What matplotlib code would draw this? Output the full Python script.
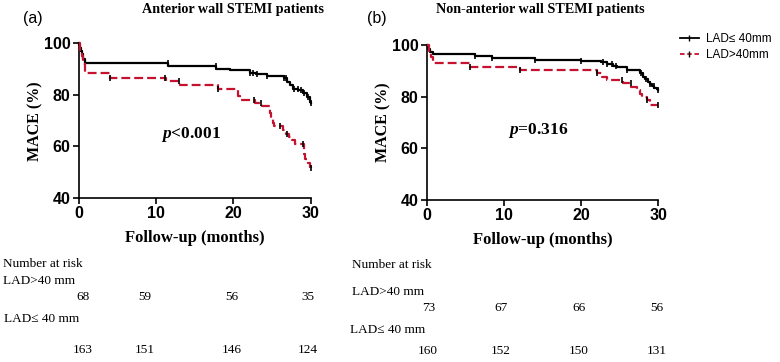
import numpy as np
import matplotlib
matplotlib.use("Agg")
from matplotlib import pyplot as plt
from matplotlib.lines import Line2D
from matplotlib.transforms import blended_transform_factory

RED = '#c4122f'

plt.rcParams['mathtext.fontset'] = 'custom'
plt.rcParams['mathtext.it'] = 'Liberation Serif:italic:bold'
plt.rcParams['mathtext.rm'] = 'Liberation Serif:bold'

# Panel (a): anterior wall STEMI
a_small_t = [0, 0.1, 0.2, 0.3, 0.4, 0.5, 0.6, 0.8, 11.6, 17.8, 19.6, 22.1, 22.9, 24.3,
             26.5, 27.0, 27.3, 27.7, 28.4, 29.0, 29.5, 29.9, 30]
a_small_s = [100, 99.4, 98.2, 97.0, 95.8, 94.6, 93.8, 92.6, 91.3, 90.2, 89.5, 88.7, 88.1, 87.2,
             86.4, 85.2, 83.8, 82.5, 81.9, 80.6, 79.3, 77.4, 76.8]
a_small_cens = [11.5, 17.7, 22.2, 22.6, 23.0, 24.3, 26.5, 26.8, 27.8, 28.3, 28.7, 29.2, 29.6, 30]
a_large_t = [0, 0.2, 0.4, 0.6, 0.8, 4.0, 11.3, 13.1, 18.0, 20.6, 20.8, 22.8, 23.7, 24.7, 24.9,
             25.1, 25.3, 26.4, 26.8, 27.2, 27.6, 28.0, 29.1, 29.3, 29.6, 29.9, 30]
a_large_s = [100, 97.5, 95.0, 92.0, 88.4, 86.7, 85.3, 83.9, 82.4, 79.5, 78.0, 76.7, 75.6, 73.0, 71.0,
             69.3, 67.9, 66.5, 65.0, 63.7, 62.5, 60.8, 57.0, 55.0, 53.5, 52.0, 51.5]
a_large_cens = [4.0, 11.2, 13.0, 18.0, 22.7, 23.6, 26.0, 27.0, 29.0, 30]

# Panel (b): non-anterior wall STEMI
b_small_t = [0, 0.2, 0.4, 0.8, 6.2, 8.4, 14.0, 20.0, 22.6, 23.3, 24.1, 24.6, 26.0, 27.6,
             28.0, 28.3, 28.6, 28.9, 29.2, 29.5, 29.8, 30]
b_small_s = [100, 98.6, 97.5, 96.4, 95.7, 94.9, 94.3, 93.8, 93.3, 92.5, 92.0, 91.4, 90.3, 89.0,
             87.8, 86.7, 85.8, 84.9, 84.1, 83.4, 82.8, 82.6]
b_small_cens = [6.2, 8.5, 14.0, 20.0, 22.8, 23.4, 24.0, 24.5, 26.0, 27.8, 28.4, 28.9, 29.4, 30]
b_large_t = [0, 0.3, 0.6, 0.8, 5.6, 12.1, 22.1, 22.7, 23.4, 25.4, 26.5, 27.3, 27.6, 27.9,
             28.5, 28.9, 30]
b_large_s = [100, 97.5, 95.5, 93.2, 91.6, 90.4, 89.0, 87.7, 86.5, 85.2, 83.9, 82.5, 81.0, 80.0,
             78.7, 76.8, 76.8]
b_large_cens = [5.6, 12.1, 22.1, 25.3, 26.4, 28.5, 30]

# Number at risk
risk_groups = ['LAD>40 mm', 'LAD\u2264 40 mm']
a_risk_large = [68, 59, 56, 35]
a_risk_small = [163, 151, 146, 124]
b_risk_large = [73, 67, 66, 56]
b_risk_small = [160, 152, 150, 131]
a_risk_x = [0.5, 8.6, 19.8, 29.6]
b_risk_x = [0.2, 9.6, 19.7, 29.8]

SERIF = ['Liberation Serif', 'DejaVu Serif']
SANS = ['Liberation Sans', 'DejaVu Sans']


def step_value(t, s, x):
    idx = np.searchsorted(t, x, side='right') - 1
    return np.array(s)[idx]


def draw_km(ax, t, s, cens, color, dashed):
    ls = (0, (4, 1.8)) if dashed else '-'
    ax.step(t, s, where='post', color=color, lw=1.6, ls=ls, clip_on=False, zorder=3)
    ax.plot(cens, step_value(t, s, cens), ls='none', marker='|', ms=5, mew=1.2,
            color=color if not dashed else 'black', clip_on=False, zorder=4)


def style_axis(ax):
    ax.set_xlim(0, 30)
    ax.set_ylim(40, 100)
    ax.set_xticks([0, 10, 20, 30])
    ax.set_yticks([40, 60, 80, 100])
    for sp in ['top', 'right']:
        ax.spines[sp].set_visible(False)
    for sp in ['left', 'bottom']:
        ax.spines[sp].set_linewidth(1.2)
    ax.tick_params(width=1.2, length=4, labelsize=11.5, pad=2)
    for lab in ax.get_xticklabels() + ax.get_yticklabels():
        lab.set_fontweight('bold')
        lab.set_family(SANS)
    ax.set_ylabel('MACE (%)', fontsize=11.5, fontweight='bold', family=SERIF, labelpad=0)
    ax.set_xlabel('Follow-up (months)', fontsize=12, fontweight='bold', family=SERIF, labelpad=6)


def risk_table(fig, ax, xs, row_large, row_small, ypix):
    tr = blended_transform_factory(ax.transData, fig.transFigure)
    H = 362.0
    fig.text(ypix[0][0] / 780, 1 - ypix[0][1] / H, 'Number at risk', family=SERIF, fontsize=9.5, va='center')
    fig.text(ypix[1][0] / 780, 1 - ypix[1][1] / H, risk_groups[0], family=SERIF, fontsize=9.5, va='center')
    fig.text(ypix[3][0] / 780, 1 - ypix[3][1] / H, risk_groups[1], family=SERIF, fontsize=9.5, va='center')
    for x, v in zip(xs, row_large):
        ax.text(x, 1 - ypix[2][1] / H, str(v), transform=tr, ha='center', va='center', family=SERIF, fontsize=9.5)
    for x, v in zip(xs, row_small):
        ax.text(x, 1 - ypix[4][1] / H, str(v), transform=tr, ha='center', va='center', family=SERIF, fontsize=9.5)


fig = plt.figure(figsize=(7.8, 3.62), dpi=100)
ax_a = fig.add_axes([0.1009, 0.453, 0.2974, 0.427])
ax_b = fig.add_axes([0.547, 0.4475, 0.297, 0.428])

draw_km(ax_a, a_small_t, a_small_s, a_small_cens, 'black', False)
draw_km(ax_a, a_large_t, a_large_s, a_large_cens, RED, True)
draw_km(ax_b, b_small_t, b_small_s, b_small_cens, 'black', False)
draw_km(ax_b, b_large_t, b_large_s, b_large_cens, RED, True)

style_axis(ax_a)
style_axis(ax_b)

fig.text(233 / 780, 1 - 9 / 362, 'Anterior wall STEMI patients', family=SERIF, fontweight='bold',
         fontsize=10.2, ha='center', va='center')
fig.text(540 / 780, 1 - 9 / 362, 'Non-anterior wall STEMI patients', family=SERIF, fontweight='bold',
         fontsize=10.2, ha='center', va='center')
fig.text(33 / 780, 1 - 18 / 362, '(a)', family=SANS, fontsize=11.5, ha='center', va='center')
fig.text(377 / 780, 1 - 18 / 362, '(b)', family=SANS, fontsize=11.5, ha='center', va='center')

ax_a.text(191 / 780, 1 - 135 / 362, r'$p$<0.001', transform=fig.transFigure, family=SERIF,
          fontweight='bold', fontsize=12.5, ha='center', va='center')
ax_b.text(538 / 780, 1 - 130 / 362, r'$p$=0.316', transform=fig.transFigure, family=SERIF,
          fontweight='bold', fontsize=12.5, ha='center', va='center')

handles = [Line2D([], [], color='black', lw=1.3, marker='|', ms=5, mew=1.0),
           Line2D([], [], color=RED, lw=1.3, ls=(0, (2.5, 1.5)), marker='|', ms=5, mew=1.0, mec='black')]
fig.legend(handles, ['LAD\u2264 40mm', 'LAD>40mm'], loc='upper left', bbox_to_anchor=(680 / 780, 1 - 33 / 362),
           frameon=False, handlelength=1.6, handletextpad=0.6, labelspacing=0.35, borderaxespad=0,
           borderpad=0, prop={'family': SANS, 'size': 8.5})

risk_table(fig, ax_a, a_risk_x, a_risk_large, a_risk_small,
           [(3, 264.3), (3, 281.3), (0, 297.3), (4, 319.3), (0, 350)])
risk_table(fig, ax_b, b_risk_x, b_risk_large, b_risk_small,
           [(352, 265), (352, 292), (0, 308), (350, 330), (0, 351)])

fig.savefig('out.png', dpi=100)
